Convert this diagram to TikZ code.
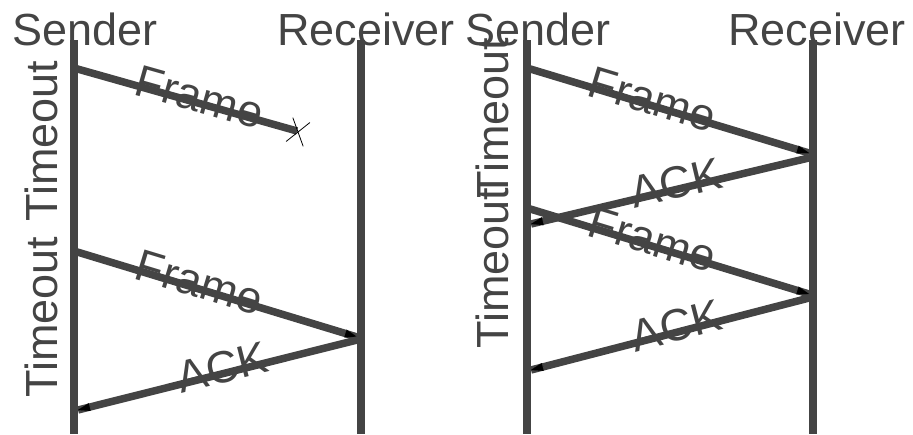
\documentclass[tikz,border=0pt]{standalone}
\usepackage{fontspec}
\setmainfont{Liberation Sans}
\usetikzlibrary{arrows.meta,calc,shapes.misc}
\definecolor{ink}{HTML}{444444}
\tikzset{
  big/.style={font=\fontsize{45}{50}\selectfont, text=ink, inner sep=0pt},
  life/.style={draw=ink, line width=8pt},
  msg/.style={draw=ink, line width=7.5pt},
  lbl/.style={big, sloped, anchor=base, pos=#1},
  blacktip/.style={black, line width=0.01pt, -{Triangle[length=12pt,width=8pt]}},
}
\newcommand{\tipat}[2]{\draw[blacktip] ($(#2)!13pt!(#1)$) -- (#2);}
\newcommand{\lowtxt}[1]{\raisebox{-9pt}{#1}}
\begin{document}
\begin{tikzpicture}[x=1pt,y=-1pt]
\useasboundingbox (0,0) rectangle (913,434);
% ---------- left panel ----------
\coordinate (LSt) at (74,40);  \coordinate (LSb) at (74,434);
\coordinate (LRt) at (361,40); \coordinate (LRb) at (361,434);
\draw[life] (LSt) -- (LSb);
\draw[life] (LRt) -- (LRb);
\node[big, anchor=base west] (lsend) at (12,45) {Sender};
\node[big, anchor=base west] (lrecv) at (277,45) {Receiver};
\node[big, rotate=90, anchor=base] (lto1) at (57,141) {Timeout};
\node[big, rotate=90, anchor=base] (lto2) at (57,317) {Timeout};
\coordinate (lf1a) at (74,68);  \coordinate (lf1b) at (297,131);
\coordinate (lf2a) at (74,251); \coordinate (lf2b) at (357,337);
\coordinate (la1a) at (361,339); \coordinate (la1b) at (78,410);
\draw[msg] (lf1a) -- node[lbl=0.556] {\lowtxt{Frame}} (lf1b);
\node[draw=black, line width=0.8pt, cross out, minimum width=17pt, minimum height=24pt, rotate=-15.8, inner sep=0pt] (lost) at (298,132) {};
\draw[msg] (lf2a) -- node[lbl=0.437] {\lowtxt{Frame}} (lf2b);
\tipat{lf2a}{lf2b}
\draw[msg] (la1a) -- node[lbl=0.484] {\lowtxt{ACK}} (la1b);
\tipat{la1a}{la1b}
% ---------- right panel ----------
\coordinate (RSt) at (527,40);  \coordinate (RSb) at (527,434);
\coordinate (RRt) at (813,40);  \coordinate (RRb) at (813,434);
\draw[life] (RSt) -- (RSb);
\draw[life] (RRt) -- (RRb);
\node[big, anchor=base west] (rsend) at (465,45) {Sender};
\node[big, anchor=base west] (rrecv) at (728,45) {Receiver};
\node[big, rotate=90, anchor=base] (rto1) at (508,118) {Timeout};
\node[big, rotate=90, anchor=base] (rto2) at (508,268) {Timeout};
\coordinate (rf1a) at (527,68);  \coordinate (rf1b) at (809,153);
\coordinate (ra1a) at (813,157); \coordinate (ra1b) at (531,224);
\coordinate (rf2a) at (527,208); \coordinate (rf2b) at (809,294);
\coordinate (ra2a) at (813,297); \coordinate (ra2b) at (531,370);
\draw[msg] (rf1a) -- node[lbl=0.438] {\lowtxt{Frame}} (rf1b);
\tipat{rf1a}{rf1b}
\draw[msg] (ra1a) -- node[lbl=0.48] {\lowtxt{ACK}} (ra1b);
\tipat{ra1a}{ra1b}
\draw[msg] (rf2a) -- node[lbl=0.438] {\lowtxt{Frame}} (rf2b);
\tipat{rf2a}{rf2b}
\draw[msg] (ra2a) -- node[lbl=0.48] {\lowtxt{ACK}} (ra2b);
\tipat{ra2a}{ra2b}
\end{tikzpicture}
\end{document}
